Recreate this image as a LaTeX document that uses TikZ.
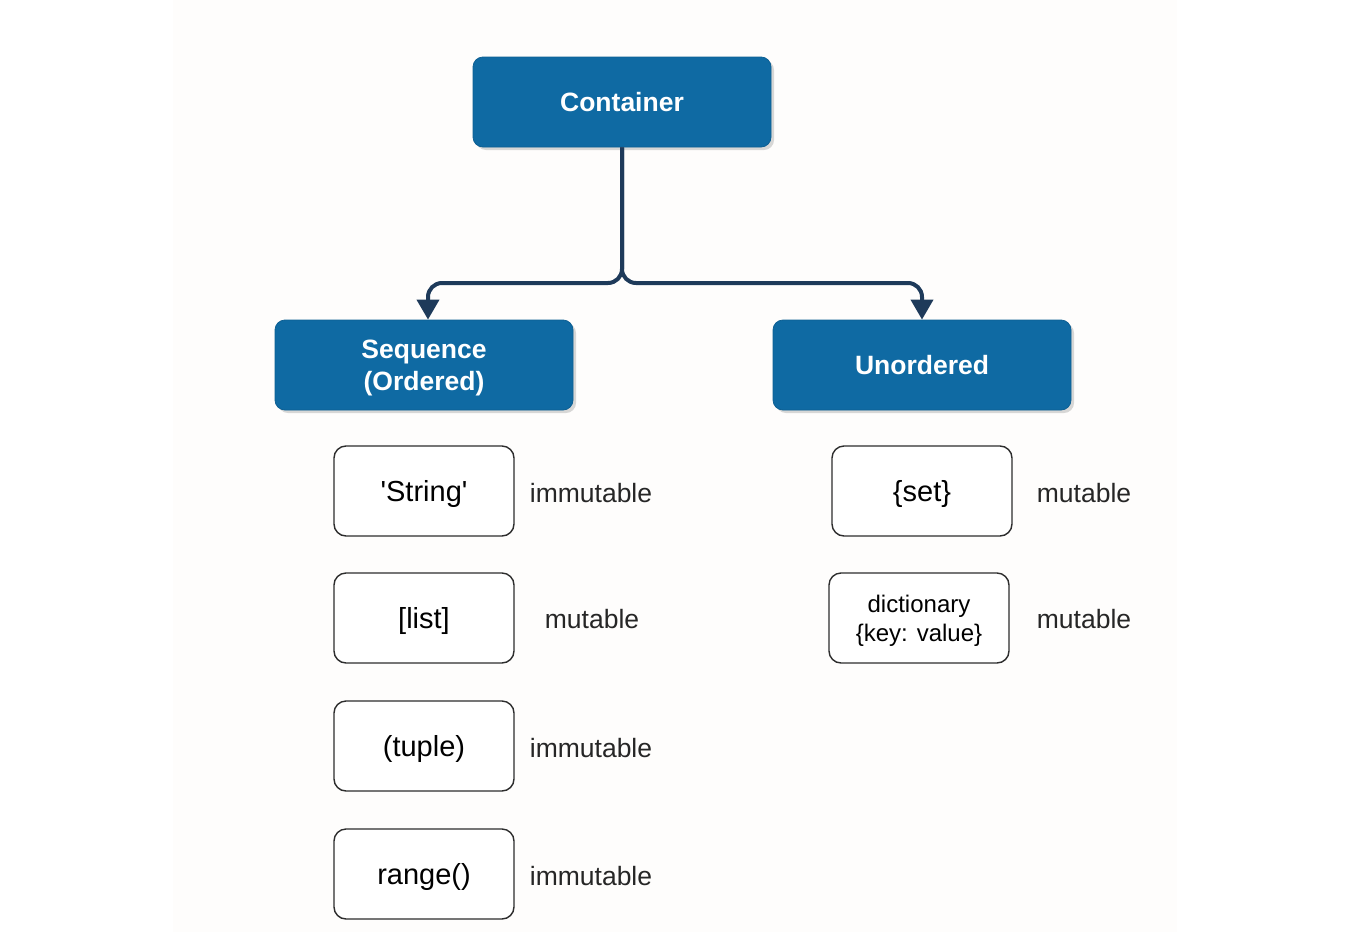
\documentclass[tikz,border=0pt]{standalone}
\usepackage{fontspec}
\setmainfont{Liberation Sans}
\usetikzlibrary{arrows.meta,shadows}
\definecolor{boxblue}{RGB}{15,106,163}
\definecolor{connavy}{RGB}{30,58,90}
\definecolor{panel}{RGB}{254,253,252}
\definecolor{itemedge}{RGB}{45,45,45}
\tikzset{
  catbox/.style={draw=boxblue!90!black, line width=0.8pt, fill=boxblue, rounded corners=10pt,
    minimum width=298pt, minimum height=90pt, align=center, text=white, text depth=0pt,
    font=\fontsize{26.5}{31}\selectfont\bfseries,
    drop shadow={shadow xshift=3pt, shadow yshift=-3pt, opacity=0.25, fill=black!60}},
  itembox/.style={draw=itemedge, line width=1.4pt, fill=white, rounded corners=12pt,
    minimum width=180pt, minimum height=90pt, align=center, text depth=0pt,
    font=\fontsize{29}{29}\selectfont},
  smallitem/.style={itembox, font=\fontsize{24}{29}\selectfont},
  tag/.style={font=\fontsize{26.5}{30}\selectfont, text=black!85},
  conn/.style={draw=connavy, line width=4pt, rounded corners=14pt,
    -{Triangle[length=20pt,width=22pt]}}
}
\begin{document}
\begin{tikzpicture}[x=1pt,y=-1pt]
  % page and central panel
  \fill[white] (0,0) rectangle (1350,932);
  \fill[panel] (173,0) rectangle (1177,932);
  \useasboundingbox (0,0) rectangle (1350,932);

  % category boxes
  \node[catbox] (cont) at (622,102) {Container};
  \node[catbox] (seq) at (424,365) {Sequence\\[1pt](Ordered)};
  \node[catbox] (unord) at (922,365) {Unordered};

  % branching connector
  \coordinate (split) at (622,283);
  \draw[conn] (cont.south) -- (split) -| ([xshift=4pt]seq.north);
  \draw[conn] (cont.south) -- (split) -| (unord.north);

  % sequence members
  \node[itembox] (str) at (424,491) {\textquotesingle String\textquotesingle};
  \node[itembox] (lst) at (424,618) {[list]};
  \node[itembox] (tup) at (424,746) {(tuple)};
  \node[itembox] (rng) at (424,874) {range()};
  \node[tag] (strm) at (591,493) {immutable};
  \node[tag] (lstm) at (592,619) {mutable};
  \node[tag] (tupm) at (591,748) {immutable};
  \node[tag] (rngm) at (591,876) {immutable};

  % unordered members
  \node[itembox] (set) at (922,491) {\{set\}};
  \node[smallitem] (dict) at (919,618) {dictionary\\\{key: value\}};
  \node[tag] (setm) at (1084,493) {mutable};
  \node[tag] (dictm) at (1084,619) {mutable};
\end{tikzpicture}
\end{document}
